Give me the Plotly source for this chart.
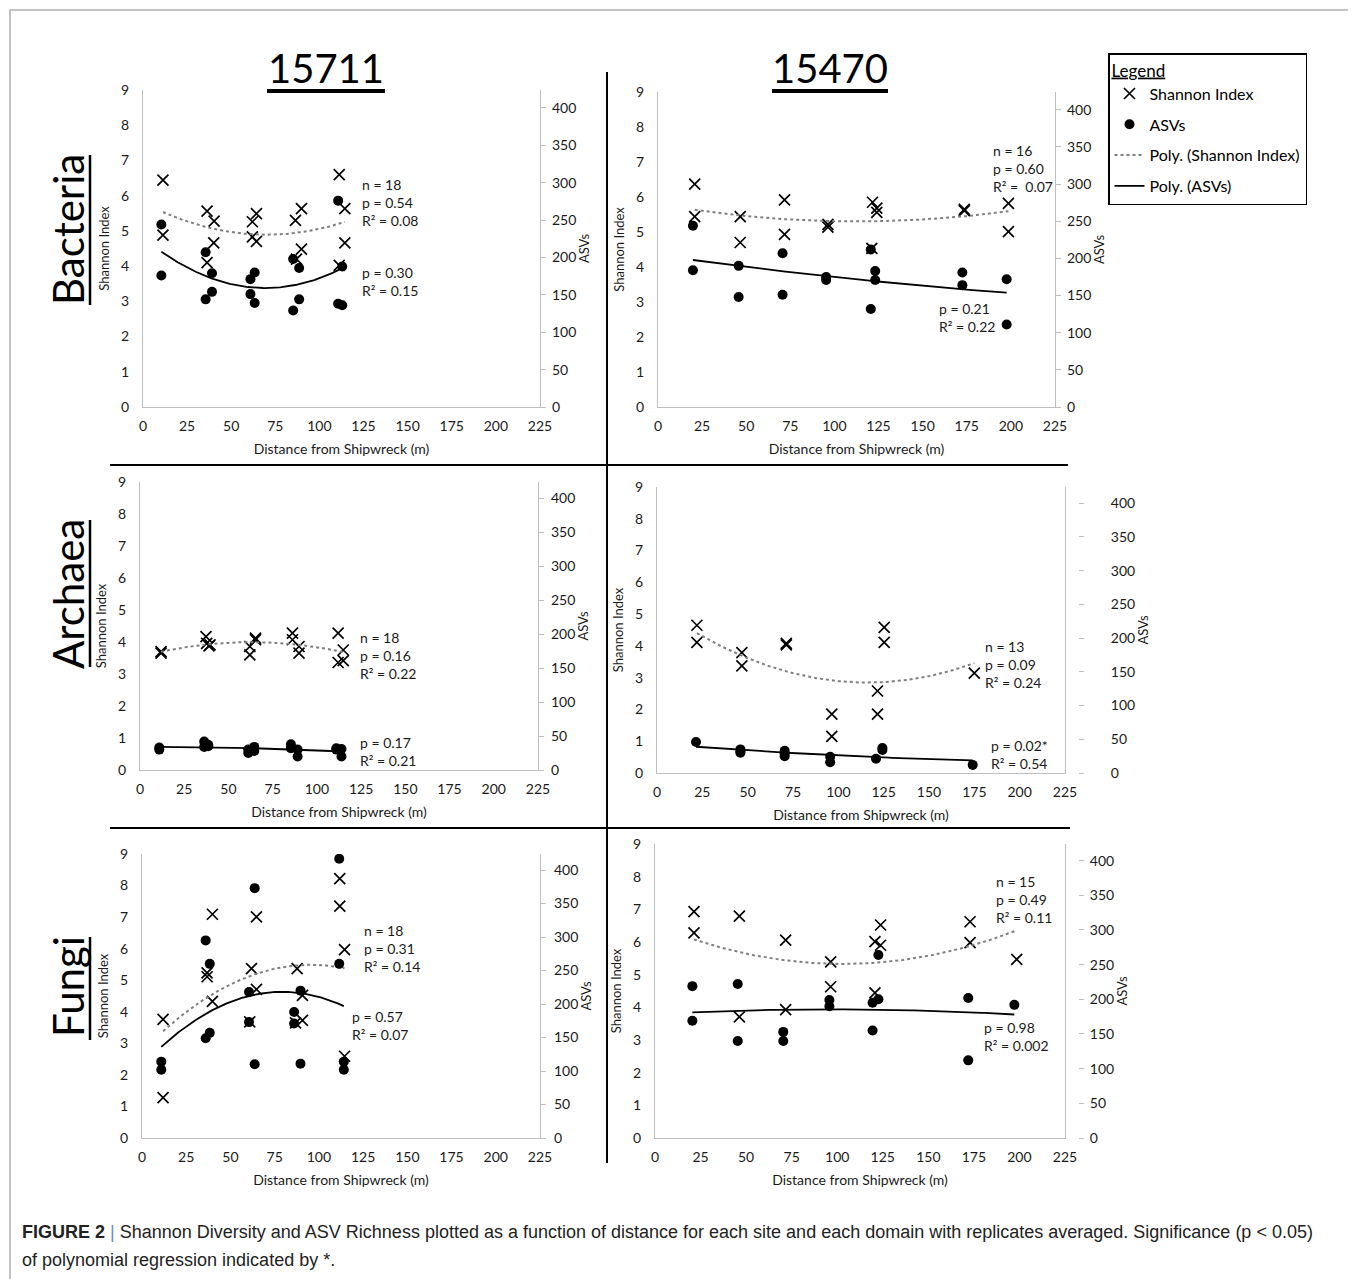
import numpy as np
import plotly.graph_objects as go

W, H = 1356, 1279
OFF = 8  # default page body margin of the written html
FONT = "Lato, 'Open Sans', sans-serif"

# ---------------- data (distance in m, Shannon index, ASV counts) ----------------
# Bacteria, site 15711
bac_15711_shannon_dist = [11.3, 11.3, 36.3, 40.3, 40.1, 36.3, 62.0, 64.3, 62.0, 64.3, 86.4, 89.8, 89.8, 87.0, 111.2, 114.4, 114.4, 111.2]
bac_15711_shannon = [6.44, 4.88, 5.56, 5.28, 4.66, 4.10, 5.26, 5.49, 4.83, 4.70, 5.30, 5.63, 4.48, 4.20, 6.60, 5.63, 4.66, 4.02]
bac_15711_asv_dist = [10.4, 10.4, 35.5, 39.1, 39.1, 35.5, 60.9, 63.3, 60.9, 63.3, 85.1, 88.5, 88.5, 85.1, 110.6, 112.9, 110.6, 112.9]
bac_15711_asv = [244, 176, 207, 179, 154, 144, 171, 180, 151, 139, 198, 186, 144, 129, 276, 188, 138, 136]

# Bacteria, site 15470
bac_15470_shannon_dist = [20.8, 20.8, 46.6, 46.6, 71.7, 71.7, 96.3, 96.3, 121.6, 124.0, 124.0, 121.2, 173.6, 173.6, 198.6, 198.6]
bac_15470_shannon = [6.37, 5.44, 5.44, 4.70, 5.92, 4.93, 5.22, 5.14, 5.85, 5.68, 5.56, 4.53, 5.65, 5.61, 5.82, 5.01]
bac_15470_asv_dist = [19.8, 19.8, 45.7, 45.7, 70.6, 70.6, 95.3, 95.3, 120.6, 120.6, 123.1, 123.1, 172.5, 172.5, 197.6, 197.6]
bac_15470_asv = [244, 184, 190, 148, 207, 151, 175, 171, 212, 132, 183, 171, 181, 164, 172, 111]

# Archaea, site 15711
arc_15711_shannon_dist = [11.9, 11.9, 37.3, 37.7, 39.6, 39.0, 62.1, 62.1, 65.3, 65.3, 86.2, 86.2, 89.9, 89.9, 112.0, 112.0, 114.9, 114.9]
arc_15711_shannon = [3.70, 3.65, 4.17, 3.96, 3.91, 3.88, 3.86, 3.60, 4.07, 4.12, 4.28, 4.07, 3.86, 3.65, 4.28, 3.36, 3.75, 3.42]
arc_15711_asv_dist = [10.9, 10.9, 36.3, 36.3, 38.6, 38.6, 61.2, 61.2, 64.6, 64.6, 85.3, 85.3, 89.1, 89.1, 111.0, 111.0, 113.9, 113.9]
arc_15711_asv = [33, 30, 42, 34, 37, 35, 25, 30, 34, 28, 38, 32, 30, 20, 32, 30, 31, 20]

# Archaea, site 15470
arc_15470_shannon_dist = [22.0, 22.0, 46.8, 46.8, 71.3, 71.3, 96.4, 96.4, 121.6, 121.6, 125.3, 125.3, 175.0]
arc_15470_shannon = [4.65, 4.11, 3.79, 3.37, 4.08, 4.03, 1.85, 1.15, 2.58, 1.85, 4.58, 4.11, 3.14]
arc_15470_asv_dist = [21.5, 46.0, 46.0, 46.0, 70.4, 70.4, 70.4, 95.5, 95.5, 120.8, 124.3, 124.3, 174.1]
arc_15470_asv = [46, 35, 30, 32, 33, 25, 29, 24, 16, 21, 37, 34, 12]

# Fungi, site 15711
fun_15711_shannon_dist = [11.9, 11.9, 39.8, 36.8, 36.8, 39.8, 64.7, 61.9, 64.7, 60.9, 87.7, 90.7, 90.7, 86.8, 111.8, 111.8, 114.5, 114.5]
fun_15711_shannon = [3.76, 1.28, 7.09, 5.23, 5.11, 4.33, 7.01, 5.37, 4.71, 3.68, 5.37, 4.52, 3.73, 3.65, 8.22, 7.35, 5.97, 2.59]
fun_15711_asv_dist = [10.9, 10.9, 36.0, 38.3, 36.0, 38.3, 63.7, 60.5, 60.5, 63.7, 86.0, 86.0, 89.6, 89.6, 111.5, 111.5, 114.1, 114.1]
fun_15711_asv = [114, 102, 295, 260, 149, 157, 373, 218, 173, 110, 188, 171, 220, 111, 417, 260, 114, 102]

# Fungi, site 15470
fun_15470_shannon_dist = [21.4, 21.4, 46.3, 46.3, 71.7, 71.7, 96.4, 96.4, 120.7, 123.8, 123.8, 120.7, 172.9, 172.9, 198.5]
fun_15470_shannon = [6.93, 6.28, 6.79, 3.71, 6.06, 3.93, 5.39, 4.63, 6.01, 6.52, 5.90, 4.44, 6.62, 5.98, 5.47]
fun_15470_asv_dist = [20.5, 20.5, 45.4, 45.4, 70.4, 70.4, 95.7, 95.7, 119.4, 122.6, 122.6, 119.4, 171.9, 171.9, 197.2]
fun_15470_asv = [219, 169, 222, 140, 153, 140, 199, 190, 195, 200, 264, 155, 202, 112, 192]

# regression statistics (text)
stats_shannon = ["n = 18<br>p = 0.54<br>R² = 0.08", "n = 16<br>p = 0.60<br>R² =  0.07",
                 "n = 18<br>p = 0.16<br>R² = 0.22", "n = 13<br>p = 0.09<br>R² = 0.24",
                 "n = 18<br>p = 0.31<br>R² = 0.14", "n = 15<br>p = 0.49<br>R² = 0.11"]
stats_asv = ["p = 0.30<br>R² = 0.15", "p = 0.21<br>R² = 0.22",
             "p = 0.17<br>R² = 0.21", "p = 0.02*<br>R² = 0.54",
             "p = 0.57<br>R² = 0.07", "p = 0.98<br>R² = 0.002"]

site_titles = ["15711", "15470"]
domain_labels = ["Bacteria", "Archaea", "Fungi"]
x_ticks = [0, 25, 50, 75, 100, 125, 150, 175, 200, 225]
shannon_ticks = [0, 1, 2, 3, 4, 5, 6, 7, 8, 9]
asv_ticks = [0, 50, 100, 150, 200, 250, 300, 350, 400]


def fx(px):
    return (px - OFF) / W


def fy(py):
    return 1 - (py - OFF) / H


# ---------------- layout of panels (pixel boxes) ----------------
panels = [
    dict(sx=bac_15711_shannon_dist, sy=bac_15711_shannon, ax=bac_15711_asv_dist, ay=bac_15711_asv,
         xpix=(143, 540), ypix=(90, 407), rfree=None, rstand=3, t1=(123, 5.80), t2=(123, 3.55)),
    dict(sx=bac_15470_shannon_dist, sy=bac_15470_shannon, ax=bac_15470_asv_dist, ay=bac_15470_asv,
         xpix=(658, 1055), ypix=(92, 407), rfree=None, rstand=3, t1=(188.6, 6.82), t2=(158, 2.56)),
    dict(sx=arc_15711_shannon_dist, sy=arc_15711_shannon, ax=arc_15711_asv_dist, ay=arc_15711_asv,
         xpix=(140, 538), ypix=(482, 770), rfree=None, rstand=4, t1=(123.3, 3.58), t2=(123.3, 0.57)),
    dict(sx=arc_15470_shannon_dist, sy=arc_15470_shannon, ax=arc_15470_asv_dist, ay=arc_15470_asv,
         xpix=(657, 1065), ypix=(487, 773), rfree=1078, rstand=24, t1=(180, 3.40), t2=(183.3, 0.59)),
    dict(sx=fun_15711_shannon_dist, sy=fun_15711_shannon, ax=fun_15711_asv_dist, ay=fun_15711_asv,
         xpix=(142, 540), ypix=(854, 1138), rfree=None, rstand=5, t1=(124.1, 5.99), t2=(117.5, 3.56)),
    dict(sx=fun_15470_shannon_dist, sy=fun_15470_shannon, ax=fun_15470_asv_dist, ay=fun_15470_asv,
         xpix=(655, 1065), ypix=(844, 1138), rfree=1078, rstand=3, t1=(186.2, 7.30), t2=(179.6, 3.12)),
]

AXIS_GRAY = "#bfbfbf"
TXT = "#1a1a1a"
TICK_FONT = dict(family=FONT, size=14, color=TXT)

fig = go.Figure()
layout = dict(width=W, height=H, margin=dict(l=0, r=0, t=0, b=0, autoexpand=False),
              paper_bgcolor="white", plot_bgcolor="rgba(0,0,0,0)", showlegend=True)
annotations = []

for i, p in enumerate(panels, start=1):
    xa = f"x{i}" if i > 1 else "x"
    yl = f"y{2*i-1}" if i > 1 else "y"
    yr = f"y{2*i}"
    first = (i == 1)

    fig.add_trace(go.Scatter(x=p["sx"], y=p["sy"], xaxis=xa, yaxis=yl, mode="markers",
                             name="Shannon Index", legendgroup="g1", showlegend=first,
                             marker=dict(symbol="x-thin", size=11, color="black",
                                         line=dict(width=1.7, color="black"))))
    fig.add_trace(go.Scatter(x=p["ax"], y=p["ay"], xaxis=xa, yaxis=yr, mode="markers",
                             name="ASVs", legendgroup="g2", showlegend=first,
                             marker=dict(symbol="circle", size=10, color="black")))
    # 2nd order polynomial trend lines (regression of the plotted data)
    cs = np.polyfit(p["sx"], p["sy"], 2)
    xs = np.linspace(min(p["sx"]), max(p["sx"]), 120)
    fig.add_trace(go.Scatter(x=xs, y=np.polyval(cs, xs), xaxis=xa, yaxis=yl, mode="lines",
                             name="Poly. (Shannon Index)", legendgroup="g3", showlegend=first,
                             line=dict(color="#7f7f7f", width=2, dash="dot"), hoverinfo="skip"))
    ca = np.polyfit(p["ax"], p["ay"], 2)
    xa_ = np.linspace(min(p["ax"]), max(p["ax"]), 120)
    fig.add_trace(go.Scatter(x=xa_, y=np.polyval(ca, xa_), xaxis=xa, yaxis=yr, mode="lines",
                             name="Poly. (ASVs)", legendgroup="g4", showlegend=first,
                             line=dict(color="black", width=1.8), hoverinfo="skip"))

    xd = [fx(p["xpix"][0]), fx(p["xpix"][1])]
    yd = [fy(p["ypix"][1]), fy(p["ypix"][0])]
    xkey = "xaxis" if i == 1 else f"xaxis{i}"
    ylkey = "yaxis" if i == 1 else f"yaxis{2*i-1}"
    yrkey = f"yaxis{2*i}"

    layout[xkey] = dict(domain=xd, anchor=yl, range=[0, 225], tickvals=x_ticks,
                        showline=True, linecolor=AXIS_GRAY, linewidth=1.2, showgrid=False,
                        zeroline=False, ticks="", tickfont=TICK_FONT, ticklabelstandoff=6,
                        title=dict(text="Distance from Shipwreck (m)",
                                   font=dict(family=FONT, size=14, color=TXT), standoff=11))
    layout[ylkey] = dict(domain=yd, anchor=xa, range=[0, 9], tickvals=shannon_ticks,
                         showline=True, linecolor=AXIS_GRAY, linewidth=1.2, showgrid=False,
                         zeroline=False, ticks="", tickfont=TICK_FONT, ticklabelstandoff=10,
                         mirror=bool(p["rfree"]),
                         title=dict(text="Shannon Index", font=dict(family=FONT, size=13, color=TXT),
                                    standoff=8))
    rdict = dict(overlaying=yl, side="right", range=[0, 424], tickvals=asv_ticks,
                 showline=p["rfree"] is None, linecolor=AXIS_GRAY, linewidth=1.2, showgrid=False,
                 zeroline=False, ticks="outside", ticklen=5, tickcolor=AXIS_GRAY,
                 tickfont=TICK_FONT, ticklabelstandoff=p["rstand"],
                 title=dict(text="ASVs", font=dict(family=FONT, size=13, color=TXT), standoff=0))
    if p["rfree"]:
        rdict.update(anchor="free", position=fx(p["rfree"]))
    else:
        rdict.update(anchor=xa)
    layout[yrkey] = rdict

    annotations.append(dict(x=p["t1"][0], y=p["t1"][1], xref=xa, yref=yl, text=stats_shannon[i-1],
                            showarrow=False, xanchor="left", yanchor="middle", align="left",
                            font=dict(family=FONT, size=14, color=TXT)))
    annotations.append(dict(x=p["t2"][0], y=p["t2"][1], xref=xa, yref=yl, text=stats_asv[i-1],
                            showarrow=False, xanchor="left", yanchor="middle", align="left",
                            font=dict(family=FONT, size=14, color=TXT)))

# column titles
for txt, cx in zip(site_titles, [326, 830]):
    annotations.append(dict(x=fx(cx), y=fy(68), xref="paper", yref="paper", text=txt,
                            showarrow=False, xanchor="center", yanchor="middle",
                            font=dict(family=FONT, size=40, color="black")))
# row labels
for txt, cy in zip(domain_labels, [230, 594, 987]):
    annotations.append(dict(x=fx(68), y=fy(cy), xref="paper", yref="paper", text=txt,
                            showarrow=False, textangle=-90, xanchor="center", yanchor="middle",
                            font=dict(family=FONT, size=42, color="black")))

# caption
CAP_FONT = dict(family="'Liberation Sans', Arial, sans-serif", size=18, color="#222")
annotations.append(dict(x=fx(20), y=fy(1232), xref="paper", yref="paper", xanchor="left", yanchor="middle",
                        showarrow=False, align="left",
                        text="<b>FIGURE 2</b> <span style='color:#6d8db5'>|</span> Shannon Diversity and ASV Richness plotted as a function of distance for each site and each domain with replicates averaged. Significance (p &lt; 0.05)",
                        font=CAP_FONT))
annotations.append(dict(x=fx(20), y=fy(1260), xref="paper", yref="paper", xanchor="left", yanchor="middle",
                        showarrow=False, align="left", text="of polynomial regression indicated by *.",
                        font=CAP_FONT))


def pline(x0, y0, x1, y1, color="black", width=2):
    return dict(type="line", xref="paper", yref="paper", x0=fx(x0), y0=fy(y0), x1=fx(x1), y1=fy(y1),
                line=dict(color=color, width=width))


shapes = [
    dict(type="rect", xref="paper", yref="paper", x0=fx(10), x1=fx(1349), y0=-0.05, y1=fy(10),
         line=dict(color="#b0b0b0", width=1.5)),
    pline(607, 72, 607, 1163),
    pline(110, 465, 1068, 465),
    pline(110, 828, 1070, 828),
    pline(267, 91, 385, 91, width=4),
    pline(772, 91, 888, 91, width=4),
    pline(90, 155, 90, 305, width=2.5),
    pline(90, 520, 90, 667, width=2.5),
    pline(90, 937, 90, 1040, width=2.5),
]

layout["annotations"] = annotations
layout["shapes"] = shapes
layout["legend"] = dict(x=fx(1108), y=fy(53), xanchor="left", yanchor="top",
                        bordercolor="black", borderwidth=1.5, bgcolor="white",
                        font=dict(family=FONT, size=16, color="black"),
                        title=dict(text="<u>Legend</u>", font=dict(family=FONT, size=17, color="black")),
                        traceorder="grouped", tracegroupgap=7, itemwidth=30)
fig.update_layout(**layout)
fig.write_html("out.html")
